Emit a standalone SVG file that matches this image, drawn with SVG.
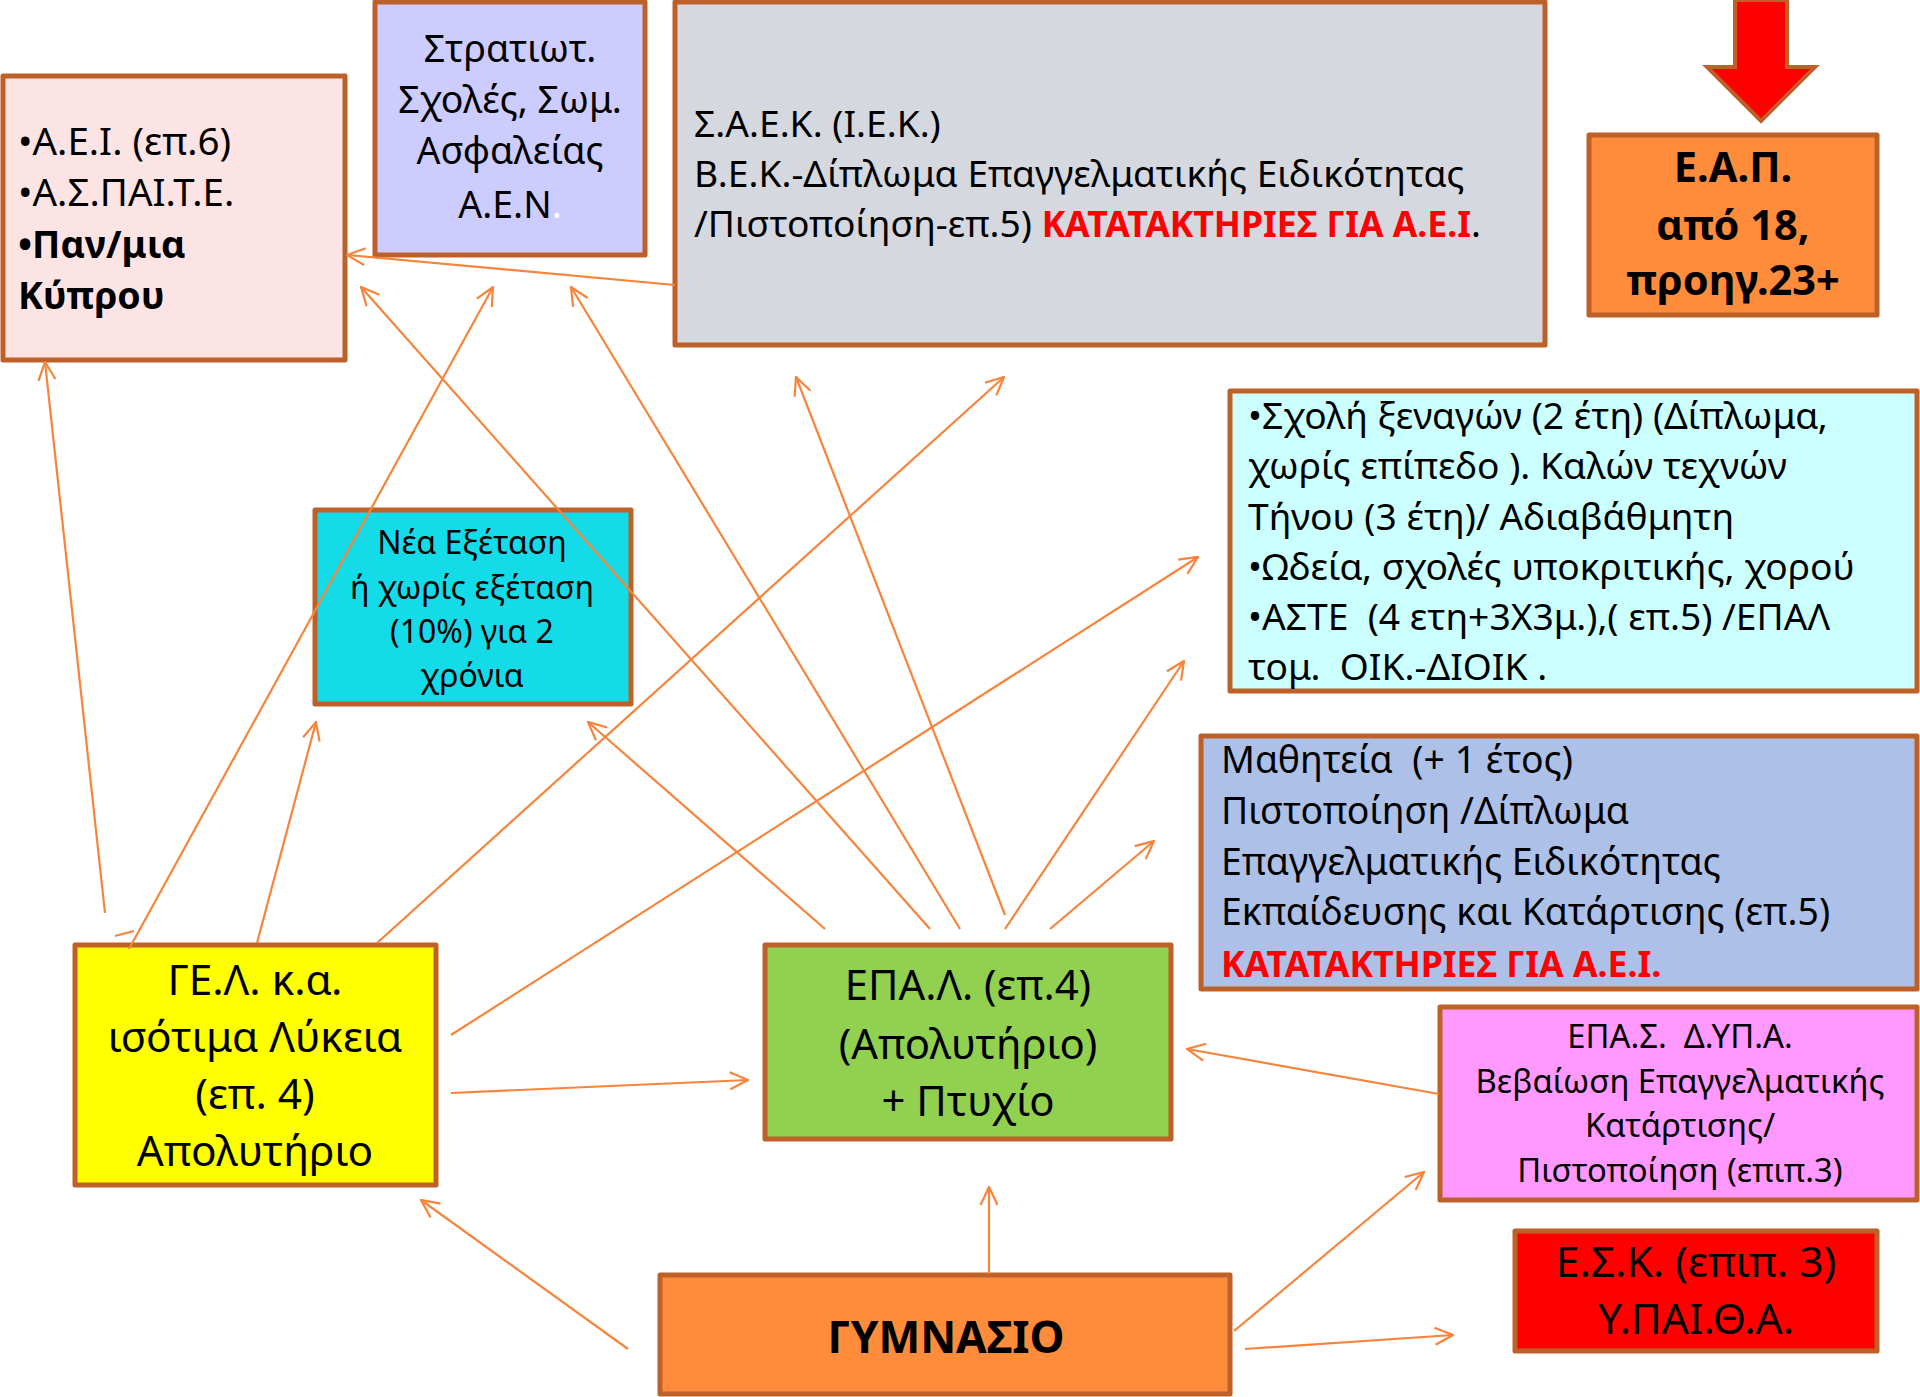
<svg xmlns="http://www.w3.org/2000/svg" width="1920" height="1397" viewBox="0 0 1920 1397">
<style>
.box{stroke:#BD6129;stroke-width:5;stroke-linejoin:round}
.t{font-family:"Noto Sans","Open Sans","DejaVu Sans",sans-serif;fill:#000;white-space:pre}
.c{text-anchor:middle}
.b{font-weight:bold}
.red{fill:#FF0000;font-weight:bold}
.cn line{stroke:#F7843A;stroke-width:2.2;fill:none}
.cn line.a{marker-end:url(#ah)}
</style>
<defs>
<marker id="ah" viewBox="0 0 20 20" refX="19" refY="10" markerWidth="20" markerHeight="20" markerUnits="userSpaceOnUse" orient="auto">
<path d="M1,1.5 L19,10 L1,18.5" fill="none" stroke="#F7843A" stroke-width="2.2"/>
</marker>
</defs>
<rect width="1920" height="1397" fill="#fff"/>

<g id="aei">
<rect class="box" x="3" y="76" width="342" height="284" fill="#FCE4E4"/>
<text class="t" font-size="38.5" x="18" y="155">•Α.Ε.Ι. (επ.6)</text>
<text class="t" font-size="38.5" x="18" y="206">•Α.Σ.ΠΑΙ.Τ.Ε.</text>
<text class="t b" font-size="37.5" x="18" y="258">•Παν/μια</text>
<text class="t b" font-size="37.5" x="18" y="309">Κύπρου</text>
</g>

<g id="stratiot">
<rect class="box" x="375" y="2" width="270" height="253" fill="#CCCCFF"/>
<text class="t c" font-size="37.5" x="510" y="62">Στρατιωτ.</text>
<text class="t c" font-size="37.5" x="510" y="113">Σχολές, Σωμ.</text>
<text class="t c" font-size="37.5" x="510" y="164">Ασφαλείας</text>
<text class="t c" font-size="37.5" x="510" y="218">Α.Ε.Ν<tspan fill="#fff">.</tspan></text>
</g>

<g id="saek">
<rect class="box" x="675" y="2" width="870" height="343" fill="#D5D8DE"/>
<text class="t" font-size="37.2" x="694" y="137">Σ.Α.Ε.Κ. (Ι.Ε.Κ.)</text>
<text class="t" font-size="37.2" x="694" y="187">Β.Ε.Κ.-Δίπλωμα Επαγγελματικής Ειδικότητας</text>
<text class="t" font-size="37.2" x="694" y="237">/Πιστοποίηση-επ.5) <tspan class="red" font-size="35.5">ΚΑΤΑΤΑΚΤΗΡΙΕΣ ΓΙΑ Α.Ε.Ι</tspan>.</text>
</g>

<g id="red-arrow">
<path d="M1735,0 L1787,0 L1787,67 L1815,67 L1761,121 L1707,67 L1735,67 Z" fill="#FF0000" stroke="#BD6129" stroke-width="4" stroke-linejoin="miter"/>
</g>

<g id="eap">
<rect class="box" x="1589" y="135" width="288" height="180" fill="#FF8C3A"/>
<text class="t c b" font-size="41.5" x="1733" y="182">Ε.Α.Π.</text>
<text class="t c b" font-size="41.5" x="1733" y="240">από 18,</text>
<text class="t c b" font-size="41.5" x="1733" y="295">προηγ.23+</text>
</g>

<g id="xenagon">
<rect class="box" x="1230" y="391" width="687" height="300" fill="#CCFFFF"/>
<text class="t" font-size="37.2" x="1248" y="429">•Σχολή ξεναγών (2 έτη) (Δίπλωμα,</text>
<text class="t" font-size="37.2" x="1248" y="479">χωρίς επίπεδο ). Καλών τεχνών</text>
<text class="t" font-size="37.2" x="1248" y="530">Τήνου (3 έτη)/ Αδιαβάθμητη</text>
<text class="t" font-size="37.2" x="1248" y="580">•Ωδεία, σχολές υποκριτικής, χορού</text>
<text class="t" font-size="37.2" x="1248" y="630">•ΑΣΤΕ  (4 ετη+3Χ3μ.),( επ.5) /ΕΠΑΛ</text>
<text class="t" font-size="37.2" x="1248" y="680">τομ.  ΟΙΚ.-ΔΙΟΙΚ .</text>
</g>

<g id="mathiteia">
<rect class="box" x="1201" y="736" width="716" height="253" fill="#ADC1E8"/>
<text class="t" font-size="37.4" x="1221" y="773">Μαθητεία  (+ 1 έτος)</text>
<text class="t" font-size="37.4" x="1221" y="824">Πιστοποίηση /Δίπλωμα</text>
<text class="t" font-size="37.4" x="1221" y="875">Επαγγελματικής Ειδικότητας</text>
<text class="t" font-size="37.4" x="1221" y="925">Εκπαίδευσης και Κατάρτισης (επ.5)</text>
<text class="t red" font-size="35.6" x="1221" y="977">ΚΑΤΑΤΑΚΤΗΡΙΕΣ ΓΙΑ Α.Ε.Ι.</text>
</g>

<g id="epas">
<rect class="box" x="1440" y="1007" width="477" height="193" fill="#FF99FF"/>
<text class="t c" font-size="32.8" x="1680" y="1048">ΕΠΑ.Σ.  Δ.ΥΠ.Α.</text>
<text class="t c" font-size="32.8" x="1680" y="1093">Βεβαίωση Επαγγελματικής</text>
<text class="t c" font-size="32.8" x="1680" y="1137">Κατάρτισης/</text>
<text class="t c" font-size="32.8" x="1680" y="1182">Πιστοποίηση (επιπ.3)</text>
</g>

<g id="esk">
<rect class="box" x="1515" y="1231" width="362" height="120" fill="#FF0000"/>
<text class="t c" font-size="42.5" x="1696" y="1277">Ε.Σ.Κ. (επιπ. 3)</text>
<text class="t c" font-size="42.5" x="1696" y="1334">Υ.ΠΑΙ.Θ.Α.</text>
</g>

<g id="nea-exetasi">
<rect class="box" x="315" y="510" width="316" height="194" fill="#13DCE8"/>
<text class="t c" font-size="32" x="472" y="554">Νέα Εξέταση</text>
<text class="t c" font-size="32" x="472" y="599">ή χωρίς εξέταση</text>
<text class="t c" font-size="32" x="472" y="643">(10%) για 2</text>
<text class="t c" font-size="32" x="472" y="687">χρόνια</text>
</g>

<g id="gel">
<rect class="box" x="75" y="945" width="361" height="240" fill="#FFFF00"/>
<text class="t c" font-size="42.3" x="255" y="995">ΓΕ.Λ. κ.α.</text>
<text class="t c" font-size="42.3" x="255" y="1052">ισότιμα Λύκεια</text>
<text class="t c" font-size="42.3" x="255" y="1109">(επ. 4)</text>
<text class="t c" font-size="42.3" x="255" y="1166">Απολυτήριο</text>
</g>

<g id="epal">
<rect class="box" x="765" y="945" width="406" height="194" fill="#92D050"/>
<text class="t c" font-size="41.8" x="968" y="1000">ΕΠΑ.Λ. (επ.4)</text>
<text class="t c" font-size="41.8" x="968" y="1059">(Απολυτήριο)</text>
<text class="t c" font-size="41.8" x="968" y="1116">+ Πτυχίο</text>
</g>

<g id="gymnasio">
<rect class="box" x="660" y="1275" width="570" height="119" fill="#FF8C3A"/>
<text class="t c b" font-size="44.3" x="946" y="1353">ΓΥΜΝΑΣΙΟ</text>
</g>

<g id="connectors" class="cn">
<line class="a" x1="675" y1="285" x2="347" y2="255"/>
<line class="a" x1="105" y1="913" x2="45" y2="362"/>
<line class="a" x1="129" y1="949" x2="493" y2="287"/>
<line x1="115" y1="936" x2="134" y2="931"/>
<line class="a" x1="257" y1="943" x2="316" y2="722"/>
<line class="a" x1="377" y1="943" x2="1004" y2="377"/>
<line class="a" x1="451" y1="1035" x2="1198" y2="557"/>
<line class="a" x1="451" y1="1093" x2="748" y2="1080"/>
<line class="a" x1="825" y1="929" x2="588" y2="722"/>
<line class="a" x1="930" y1="929" x2="361" y2="287"/>
<line class="a" x1="960" y1="929" x2="571" y2="287"/>
<line class="a" x1="1005" y1="915" x2="796" y2="377"/>
<line class="a" x1="1005" y1="929" x2="1184" y2="661"/>
<line class="a" x1="1050" y1="929" x2="1154" y2="841"/>
<line class="a" x1="1439" y1="1094" x2="1187" y2="1049"/>
<line class="a" x1="628" y1="1349" x2="421" y2="1200"/>
<line class="a" x1="989" y1="1274" x2="989" y2="1187"/>
<line class="a" x1="1234" y1="1331" x2="1424" y2="1172"/>
<line class="a" x1="1245" y1="1349" x2="1453" y2="1335"/>
</g>
</svg>
